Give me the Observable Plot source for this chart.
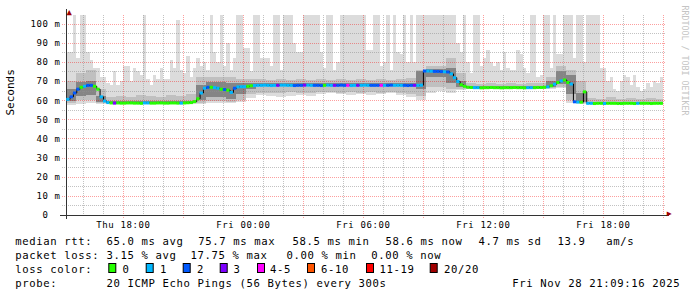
<!DOCTYPE html>
<html><head><meta charset="utf-8">
<script src="https://cdn.jsdelivr.net/npm/d3@7"></script>
<script src="https://cdn.jsdelivr.net/npm/@observablehq/plot@0.6"></script>
<style>
html,body{margin:0;padding:0;background:#fff;}
#wrap{width:697px;height:297px;overflow:hidden;background:#fff;}
#wrap svg{display:block;}
g[aria-label="x-axis tick label"] text, g[aria-label="y-axis tick label"] text{letter-spacing:0.6px;}
</style></head><body><div id="wrap"></div>
<script>
// ---- time frame ----
const startTime = new Date(Date.UTC(2025,10,27,15,9,16));
const endTime   = new Date(Date.UTC(2025,10,28,21,9,16));
const firstStep = new Date(Date.UTC(2025,10,27,15,10,0));
const stepMinutes = 10;      // median / loss / max columns
const smokeMinutes = 30;     // smoke band columns

// ---- median rtt (ms), one value per 10 minutes ----
const median = [
60.7,62,64,66,67,67.5,68,68,67.5,66,62,59.8,59,
58.8,58.7,58.8,58.7,58.7,58.8,58.8,58.7,58.7,58.6,58.8,58.8,58.7,58.7,58.8,58.8,58.7,58.7,58.8,58.8,58.7,58.7,58.8,58.9,
59,59.5,61,64,66.5,67,67,66.8,66.5,66,65.8,65.5,64.3,66.5,67.2,67.3,67.3,67.5,
67.8,67.9,68,68,68.1,68,67.9,68,68,68.1,
68.1,68,68,67.9,68,68,68.1,68.1,68,68,
68,67.9,68,68.1,68,68,68,68.1,68,68,
67.9,68,68,68,68.1,68,68,68,68,68,
68,68,68.1,68,68,68,68,67.9,68,68,
68,68.1,
75.5,75.5,75.4,75.3,75.3,75.2,75.1,75,74,72,70,68.3,67.5,
67,66.9,66.8,66.8,66.7,66.8,66.8,66.9,66.8,66.8,66.7,66.8,66.8,66.8,66.9,66.8,66.8,66.7,66.8,66.8,66.8,66.9,66.9,67,
67.2,67.8,68.6,69.5,70.3,70.8,69.5,68.7,59.4,59.3,59.2,64.6,58.6,
58.6,58.5,58.6,58.6,58.5,58.6,58.6,58.6,58.5,58.5,58.6,58.6,58.6,58.5,58.6,58.6,58.6,58.6,58.5,58.6,58.6,58.6
];

// ---- lost pings (of 20), one value per 10 minutes ----
const lossCount = [
1,2,2,2,0,1,2,2,0,0,1,1,1,
0,3,0,0,0,0,0,0,0,0,1,1,0,0,0,0,0,0,0,0,0,1,0,0,
0,0,0,1,1,2,0,1,1,0,2,0,1,2,1,1,1,0,
0,1,1,1,1,1,1,1,3,1,
1,1,1,2,2,2,3,1,1,2,
2,2,0,1,1,3,2,2,2,4,
1,1,3,1,1,1,2,2,2,4,
1,2,2,1,1,1,2,2,2,3,
1,1,
2,1,1,2,2,2,1,2,1,1,1,0,0,
0,0,1,1,0,0,0,0,0,0,0,0,0,0,0,0,0,0,1,1,0,0,0,0,
1,0,1,0,1,0,0,1,2,1,0,0,1,
1,0,0,0,1,0,0,0,0,0,0,0,0,0,1,0,0,0,0,0,0,0
];

// ---- max ping (ms), one value per 10 minutes (values above the top are clipped) ----
const pingMax = [
85,85,110,82,110,110,85,81,77,77,72,72,69,
68,75,68,70,78,78,70,77,75,73,110,71,68,73,71,77,71,71,81,77,102,76,74,83,
72,77,82,78,80,76,110,85,80,110,78,90,76,82,110,110,87,87,
75,110,110,82,82,82,78,110,110,76,
110,110,110,90,85,85,110,110,110,110,
110,85,77,110,110,76,80,110,110,110,
110,110,110,110,110,86,86,110,110,78,
80,110,76,110,85,84,110,80,110,80,
110,110,
110,110,110,110,110,110,110,110,110,110,90,85,110,
80,74,110,110,78,82,86,80,78,80,76,85,77,76,76,86,84,77,74,110,110,72,73,110,
110,77,110,84,84,110,110,110,82,110,110,80,110,
110,110,110,77,77,70,72,66,65,70,73,72,68,73,67,65,66,69,67,70,69,72
];

// ---- smoke bands (ms), one value per 30 minutes ----
const pingMin30 = [
57.5,58,58.5,57.8,58.2,58.2,58.2,58.2,58.2,58.2,
58.2,58.2,58.2,58,58.5,58.5,58.5,59,61,62.5,
62,61.5,62,62.5,62,63,63.5,63,62.5,63,
62.5,63,63.5,62.5,61.5,60,64,65,64,65.5,
65.8,65.8,65.8,65.8,65.8,65.8,65.8,65.8,66,66.5,
58.5,58,58.2,58.2,58.2,58.2,58.2,58.2,58.2,58.2
];
const midLo30 = [
58.5,60,60,58.3,58.3,58.3,58.3,58.3,58.3,58.3,
58.3,58.3,58.3,58.5,59.5,59.5,59,60,63,64,
64,64,64.5,64,64,64.5,64.5,64,64.5,64,
64.5,64,64.5,64,63,62,67,67,66,66,
66,66,66,66,66,66,66,66,66.3,67,
60,58.5,58.3,58.3,58.3,58.3,58.3,58.3,58.3,58.3
];
const midHi30 = [
70,74,76,66,61.5,62,61.5,62.5,62,61.5,
62.5,62,63,72,72,72,72,71,71,71,
70.5,71,70.5,71,70.5,71,70.5,71,70.5,71,
70.5,71,70.5,71,71.5,76,78,78,82,74,
69,68.5,69,68.5,69,68.5,69,69,72,78,
76,70,61,60.5,61.5,60.5,61,60.5,61,60.5
];
const darkLo30 = [
59.5,62,62.5,58.8,58.4,58.4,58.4,58.4,58.4,58.4,
58.4,58.4,58.4,60,61.5,61.5,60.5,63,66,67.2,
67.2,67.2,67.2,67.2,67.2,67.2,67.2,67.2,67.2,67.2,
67.2,67.2,67.2,67.2,67.2,66,72,72,69,66.8,
66.4,66.4,66.4,66.4,66.4,66.4,66.4,66.4,67,68.5,
63,59,58.4,58.4,58.4,58.4,58.4,58.4,58.4,58.4
];
const darkHi30 = [
66,69.5,70,62,59.4,59.4,59.4,59.4,59.4,59.4,
59.4,59.4,59.4,68,69.5,69.5,69,69,69,68.8,
68.8,68.8,68.8,68.8,68.8,68.8,68.8,68.8,68.8,68.8,
68.8,68.8,68.8,68.8,68.8,75,76.5,76.5,77,70,
67.4,67.4,67.4,67.4,67.4,67.4,67.4,67.4,70,75,
73,64,59.3,59.3,59.3,59.3,59.3,59.3,59.3,59.3
];

// ---- axis ticks ----
const yTickValues = [0,10,20,30,40,50,60,70,80,90,100];
const yMinorValues = [5,15,25,35,45,55,65,75,85,95];
const yUnit = "m";

// ---- legend ----
const lossCategories = ["0","1","2","3","4-5","6-10","11-19","20/20"];
const lossUpper      = [0,1,2,3,5,10,19,20];
const lossColors     = ["#26ff00","#00b8ff","#0059ff","#7e00ff","#ff00ff","#ff5500","#ff0000","#a10000"];
const rttLabel = "median rtt:";
const rttStats = ["65.0 ms avg","75.7 ms max","58.5 ms min","58.6 ms now","4.7 ms sd","13.9","am/s"];
const lossLabel = "packet loss:";
const lossStats = ["3.15 % avg","17.75 % max","0.00 % min","0.00 % now"];
const colorLabel = "loss color:";
const probeLabel = "probe:";
const probeText = "20 ICMP Echo Pings (56 Bytes) every 300s";
const stampText = "Fri Nov 28 21:09:16 2025";
const yLabel = "Seconds";
const watermark = "RRDTOOL / TOBI OETIKER";

// ---- build tables ----
const MIN = 60000;
const cols = median.map((m, i) => {
  const t0 = new Date(+firstStep + i * stepMinutes * MIN);
  return {t0, t1: new Date(+t0 + stepMinutes * MIN), tm: new Date(+t0 + stepMinutes * MIN / 2),
          med: m, loss: lossCount[i], hi: pingMax[i], lo: pingMin30[Math.floor(i * stepMinutes / smokeMinutes)]};
});
const dataEnd = cols[cols.length - 1].t1;
const smoke = midLo30.map((v, j) => {
  const t0 = new Date(+firstStep + j * smokeMinutes * MIN);
  let t1 = new Date(+t0 + smokeMinutes * MIN); if (t1 > dataEnd) t1 = dataEnd;
  return {t0, t1, midLo: v, midHi: midHi30[j], darkLo: darkLo30[j], darkHi: darkHi30[j]};
});
const lossColor = n => lossColors[lossUpper.findIndex(u => n <= u)];

const hourTicks = d3.utcHour.range(startTime, endTime);
const majorX = hourTicks.filter(d => d.getUTCHours() % 3 === 0);
const minorX = hourTicks.filter(d => d.getUTCHours() % 3 !== 0);
const labelX = hourTicks.filter(d => d.getUTCHours() % 6 === 0);

const gridMinor = {stroke: "#8f8f8f", strokeOpacity: 0.55, strokeDasharray: "1,1", shapeRendering: "crispEdges"};
const gridMajor = {stroke: "#f60000", strokeOpacity: 0.38, strokeDasharray: "1,1", shapeRendering: "crispEdges"};

const chart = Plot.plot({
  width: 697, height: 232,
  marginLeft: 66, marginRight: 31, marginTop: 15, marginBottom: 17,
  style: {fontFamily: "'DejaVu Sans Mono', monospace", fontSize: "9px", background: "#fff", overflow: "visible", color: "#000"},
  x: {type: "utc", domain: [startTime, endTime], axis: null, label: null},
  y: {domain: [0, 104.5], clamp: true, axis: null, label: null},
  color: {type: "identity"},
  marks: [
    Plot.rect(cols, {x1: "t0", x2: "t1", y1: "lo", y2: "hi", fill: "#dcdcdc", shapeRendering: "crispEdges"}),
    Plot.rect(smoke, {x1: "t0", x2: "t1", y1: "midLo", y2: "midHi", fill: "#c0c0c0", shapeRendering: "crispEdges"}),
    Plot.rect(smoke, {x1: "t0", x2: "t1", y1: "darkLo", y2: "darkHi", fill: "#858585", shapeRendering: "crispEdges"}),
    Plot.ruleX(minorX, {...gridMinor, insetBottom: -2}),
    Plot.ruleY(yMinorValues, {...gridMinor, insetLeft: -4}),
    Plot.ruleX(majorX, {...gridMajor, insetBottom: -3}),
    Plot.ruleY(yTickValues.filter(v => v > 0), {...gridMajor, insetLeft: -4}),
    Plot.axisX({ticks: labelX, tickFormat: d3.utcFormat("%a %H:%M"), tickSize: 0, tickPadding: 6, label: null, fill: "#000"}),
    Plot.axisY({ticks: yTickValues, tickFormat: d => d === 0 ? "0\u00a0\u00a0" : `${d} ${yUnit}`, tickSize: 0, tickPadding: 6, label: null, fill: "#000"}),
    Plot.ruleY([0], {stroke: "#333", insetLeft: -6, insetRight: -3, shapeRendering: "crispEdges"}),
    Plot.ruleX([startTime], {stroke: "#333", insetTop: -6, insetBottom: -4, shapeRendering: "crispEdges"}),
    Plot.line(cols, {x: "tm", y: "med", curve: "step", stroke: "#000", strokeWidth: 1}),
    Plot.ruleY(cols, {y: "med", x1: "t0", x2: "t1", stroke: d => lossColor(d.loss), strokeWidth: 3}),
    Plot.text(["\u25B2"], {text: d => d, frameAnchor: "top-left", dy: -7, fill: "#a00000", fontSize: 9}),
    Plot.text(["\u25B6"], {text: d => d, frameAnchor: "bottom-right", dx: 5, fill: "#a00000", fontSize: 8}),
    Plot.text([yLabel], {text: d => d, frameAnchor: "left", dx: -56, rotate: -90, fontSize: 11, fill: "#000"}),
    Plot.text([watermark], {text: d => d, frameAnchor: "top-right", dx: 21, dy: -10, rotate: 90, textAnchor: "start", fill: "#c4c4c4", fontSize: 8.3})
  ]
});
document.getElementById("wrap").appendChild(chart);

// ---- legend block below the plot ----
const legendLayout = {
  baselines: [12.7, 26.7, 40.7, 55],
  labelX: 16,
  rttX: [107.3, 199, 293.3, 386.3, 479.3, 558.3, 607],
  lossX: [107.3, 191.3, 287.3, 372],
  swatchX: [108.3, 145.7, 182.7, 219.7, 257, 307, 366, 429.7],
  swatchLabelX: [123.3, 160.7, 197.7, 234.3, 270.7, 321.7, 380.3, 444.7],
  probeX: 107.3, stampRight: 681
};
const leg = d3.create("svg").attr("width", 697).attr("height", 65)
  .style("font-family", "'DejaVu Sans Mono', monospace").style("font-size", "10.6px")
  .style("letter-spacing", "0.62px").style("display", "block");
const L = legendLayout, bear = 0.8;
const put = (x, y, s, anchor) => leg.append("text").attr("x", x - bear).attr("y", y).attr("fill", "#000")
  .attr("text-anchor", anchor || "start").text(s);
put(L.labelX, L.baselines[0], rttLabel);
rttStats.forEach((s, k) => put(L.rttX[k], L.baselines[0], s));
put(L.labelX, L.baselines[1], lossLabel);
lossStats.forEach((s, k) => put(L.lossX[k], L.baselines[1], s));
put(L.labelX, L.baselines[2], colorLabel);
lossCategories.forEach((c, k) => {
  leg.append("rect").attr("x", L.swatchX[k] + 0.5).attr("y", 31.5).attr("width", 7).attr("height", 9)
    .attr("fill", lossColors[k]).attr("stroke", "#000").attr("stroke-width", 1);
  put(L.swatchLabelX[k], L.baselines[2], c);
});
put(L.labelX, L.baselines[3], probeLabel);
put(L.probeX, L.baselines[3], probeText);
put(L.stampRight, L.baselines[3], stampText, "end");
document.getElementById("wrap").appendChild(leg.node());
</script></body></html>
